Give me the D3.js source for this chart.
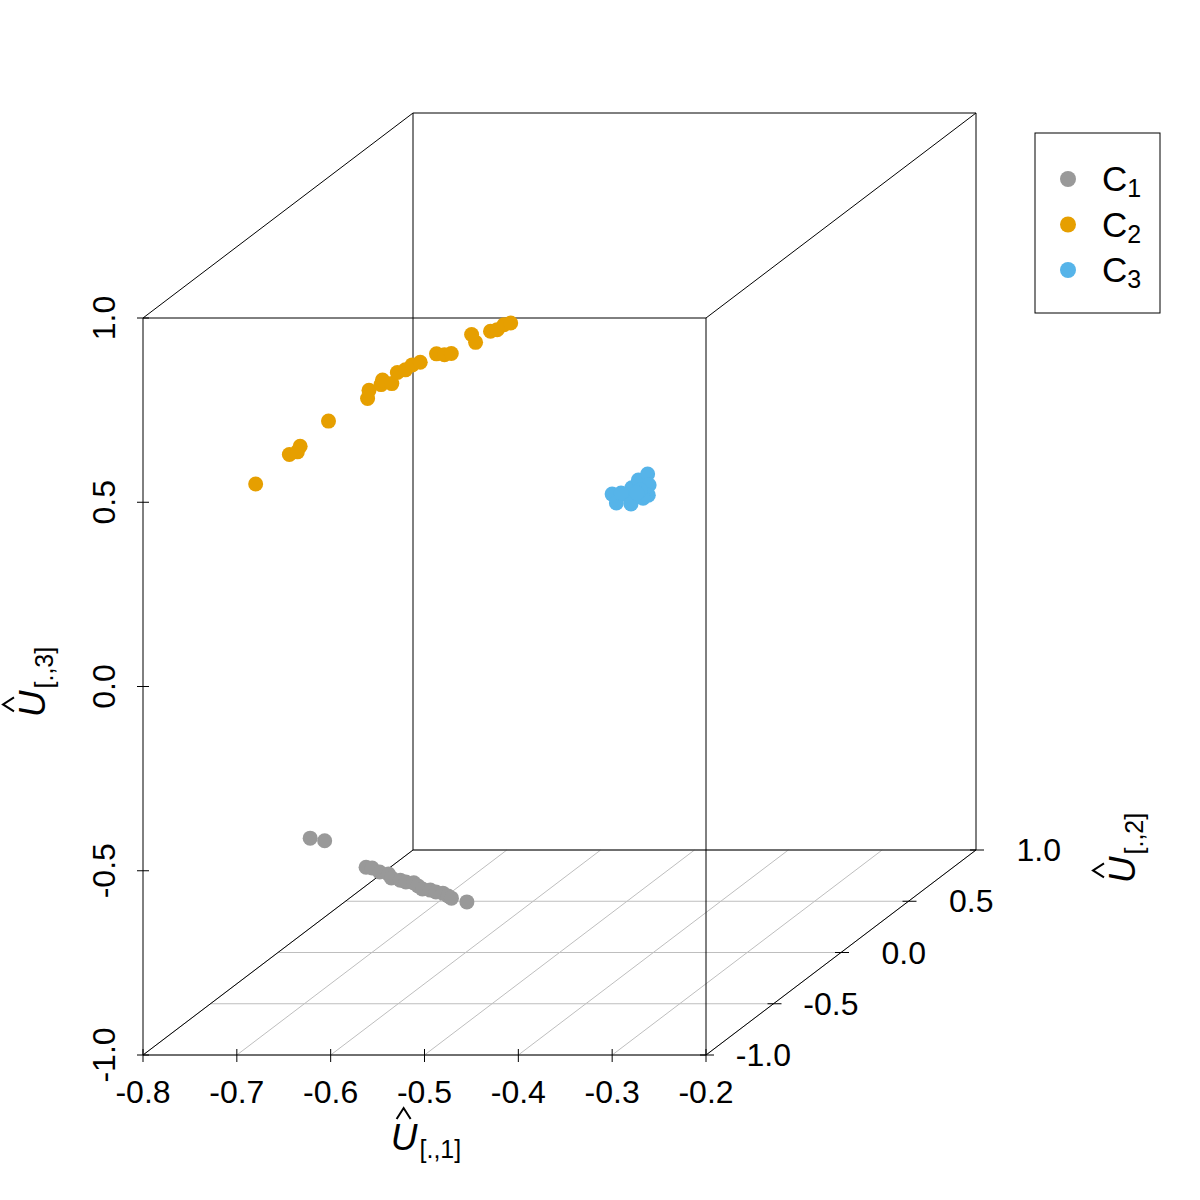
<!DOCTYPE html>
<html>
<head>
<meta charset="utf-8">
<script src="https://cdn.jsdelivr.net/npm/d3@7"></script>
<style>
  body { margin: 0; background: #ffffff; }
  text { font-family: "Liberation Sans", Arial, sans-serif; }
</style>
</head>
<body>
<div id="chart"></div>
<script>
// tick values for the three axes
const xTicks = [-0.8, -0.7, -0.6, -0.5, -0.4, -0.3, -0.2]
const yTicks = [-1.0, -0.5, 0.0, 0.5, 1.0]
const zTicks = [-1.0, -0.5, 0.0, 0.5, 1.0]

// legend labels (C + subscript)
const legendBase = ["C", "C", "C"]
const legendSub = ["1", "2", "3"]

// cluster C1 (grey)
const c1_u1 = [-0.665, -0.651, -0.604, -0.599, -0.591, -0.583, -0.577, -0.569, -0.563, -0.556, -0.550, -0.544, -0.537, -0.531, -0.525, -0.518, -0.513, -0.498]
const c1_u2 = [-0.70, -0.69, -0.71, -0.70, -0.70, -0.69, -0.71, -0.70, -0.70, -0.69, -0.70, -0.71, -0.70, -0.70, -0.69, -0.70, -0.71, -0.70]
const c1_u3 = [-0.495, -0.505, -0.571, -0.576, -0.587, -0.595, -0.600, -0.609, -0.614, -0.619, -0.625, -0.630, -0.636, -0.641, -0.647, -0.652, -0.655, -0.668]

// cluster C2 (orange)
const c2_u1 = [-0.69, -0.68, -0.67, -0.68, -0.68, -0.67, -0.68, -0.67, -0.68, -0.66, -0.68, -0.67, -0.68, -0.67, -0.68, -0.66, -0.67, -0.68, -0.67, -0.68, -0.67, -0.68, -0.67]
const c2_u2 = [-0.93, -0.75, -0.76, -0.67, -0.46, -0.24, -0.16, -0.14, -0.06, -0.13, 0.05, 0.04, 0.16, 0.15, 0.34, 0.26, 0.38, 0.60, 0.56, 0.74, 0.72, 0.84, 0.82]
const c2_u3 = [0.53, 0.56, 0.57, 0.56, 0.57, 0.57, 0.57, 0.58, 0.57, 0.58, 0.56, 0.57, 0.55, 0.56, 0.53, 0.55, 0.52, 0.51, 0.50, 0.48, 0.49, 0.47, 0.48]

// cluster C3 (blue)
const c3_u1 = [-0.372, -0.366, -0.355, -0.351, -0.349, -0.344, -0.337, -0.334, -0.332, -0.339, -0.342, -0.347, -0.361]
const c3_u2 = [-0.50, -0.51, -0.49, -0.50, -0.52, -0.50, -0.48, -0.49, -0.51, -0.50, -0.50, -0.49, -0.51]
const c3_u3 = [0.383, 0.362, 0.372, 0.400, 0.362, 0.421, 0.432, 0.405, 0.383, 0.372, 0.394, 0.383, 0.389]

const clusterColors = ["#999999", "#E69F00", "#56B4E9"]

const width = 1200
const height = 1200

// front face of the box + depth offset for the third axis
const xScale = d3.scaleLinear().domain([-0.8, -0.2]).range([143, 706])
const zScale = d3.scaleLinear().domain([-1, 1]).range([1055, 318])
const depthScale = d3.scaleLinear().domain([-1, 1]).range([0, 1])
const depthX = 270
const depthY = -205

function project(x, y, z) {
    const d = depthScale(y)
    return [xScale(x) + d * depthX, zScale(z) + d * depthY]
}

const points = []
const clusters = [[c1_u1, c1_u2, c1_u3], [c2_u1, c2_u2, c2_u3], [c3_u1, c3_u2, c3_u3]]
clusters.forEach((c, k) => {
    c[0].forEach((v, i) => {
        points.push({ u1: v, u2: c[1][i], u3: c[2][i], cluster: k })
    })
})

const svg = d3.select("#chart")
    .append("svg")
    .attr("width", width)
    .attr("height", height)

svg.append("rect").attr("width", width).attr("height", height).attr("fill", "white")

const xMin = xTicks[0], xMax = xTicks[xTicks.length - 1]
const yMin = yTicks[0], yMax = yTicks[yTicks.length - 1]
const zMin = zTicks[0], zMax = zTicks[zTicks.length - 1]

// floor grid
const grid = svg.append("g").attr("stroke", "#bebebe").attr("stroke-width", 1).attr("fill", "none")
xTicks.forEach(t => {
    const a = project(t, yMin, zMin), b = project(t, yMax, zMin)
    grid.append("line").attr("x1", a[0]).attr("y1", a[1]).attr("x2", b[0]).attr("y2", b[1])
})
yTicks.forEach(t => {
    const a = project(xMin, t, zMin), b = project(xMax, t, zMin)
    grid.append("line").attr("x1", a[0]).attr("y1", a[1]).attr("x2", b[0]).attr("y2", b[1])
})

// box
const corners = []
;[xMin, xMax].forEach(x => [yMin, yMax].forEach(y => [zMin, zMax].forEach(z => corners.push({ x, y, z }))))
const box = svg.append("g").attr("stroke", "black").attr("stroke-width", 1).attr("fill", "none")
corners.forEach((a, i) => {
    corners.forEach((b, j) => {
        if (j <= i) return
        const diff = (a.x !== b.x) + (a.y !== b.y) + (a.z !== b.z)
        if (diff !== 1) return
        const p = project(a.x, a.y, a.z), q = project(b.x, b.y, b.z)
        box.append("line").attr("x1", p[0]).attr("y1", p[1]).attr("x2", q[0]).attr("y2", q[1])
    })
})

// ticks
const ticks = svg.append("g").attr("stroke", "black").attr("stroke-width", 1)
xTicks.forEach(t => {
    const p = project(t, yMin, zMin)
    ticks.append("line").attr("x1", p[0]).attr("y1", p[1] - 6).attr("x2", p[0]).attr("y2", p[1] + 7)
})
zTicks.forEach(t => {
    const p = project(xMin, yMin, t)
    ticks.append("line").attr("x1", p[0] - 6).attr("y1", p[1]).attr("x2", p[0] + 6).attr("y2", p[1])
})
yTicks.forEach(t => {
    const p = project(xMax, t, zMin)
    ticks.append("line").attr("x1", p[0] - 6).attr("y1", p[1]).attr("x2", p[0] + 8).attr("y2", p[1])
})

// tick labels (plain hyphen for the minus sign, like R)
const fmt = v => d3.format(".1f")(v).replace("\u2212", "-")
const labels = svg.append("g").attr("font-size", 32).attr("fill", "black")
xTicks.forEach(t => {
    const p = project(t, yMin, zMin)
    labels.append("text").attr("x", p[0]).attr("y", p[1] + 48)
        .attr("text-anchor", "middle").text(fmt(t))
})
zTicks.forEach(t => {
    const p = project(xMin, yMin, t)
    labels.append("text")
        .attr("transform", "translate(" + (p[0] - 28) + "," + p[1] + ") rotate(-90)")
        .attr("text-anchor", "middle").text(fmt(t))
})
yTicks.forEach(t => {
    const p = project(xMax, t, zMin)
    labels.append("text").attr("x", p[0] + 85).attr("y", p[1] + 11)
        .attr("text-anchor", "end").text(fmt(t))
})

// points
svg.append("g")
    .selectAll("circle")
    .data(points)
    .join("circle")
    .attr("cx", d => project(d.u1, d.u2, d.u3)[0])
    .attr("cy", d => project(d.u1, d.u2, d.u3)[1])
    .attr("r", 7.5)
    .attr("fill", d => clusterColors[d.cluster])

// axis titles: U-hat with subscript
function hatLabel(g, sub) {
    const u = g.append("text").attr("font-size", 37).attr("font-style", "italic").text("U")
    const s = g.append("text").attr("font-size", 25).attr("dy", 8).text(sub)
    const uw = u.node().getComputedTextLength()
    const sw = s.node().getComputedTextLength()
    const start = -(uw + sw + 2) / 2
    u.attr("x", start)
    s.attr("x", start + uw + 2)
    const cx = start + uw * 0.48
    g.append("path")
        .attr("d", "M" + (cx - 7) + ",-31 L" + cx + ",-42 L" + (cx + 7) + ",-31")
        .attr("fill", "none").attr("stroke", "black").attr("stroke-width", 2)
}
hatLabel(svg.append("g").attr("transform", "translate(426,1150)"), "[.,1]")
hatLabel(svg.append("g").attr("transform", "translate(45,682) rotate(-90)"), "[.,3]")
hatLabel(svg.append("g").attr("transform", "translate(1135,848) rotate(-90)"), "[.,2]")

// legend
const legend = svg.append("g")
legend.append("rect").attr("x", 1035).attr("y", 133).attr("width", 125).attr("height", 180)
    .attr("fill", "white").attr("stroke", "black").attr("stroke-width", 1)
const legendY = d3.scalePoint().domain(legendSub).range([179, 270])
legendSub.forEach((s, i) => {
    const y = legendY(s)
    legend.append("circle").attr("cx", 1068).attr("cy", y).attr("r", 8).attr("fill", clusterColors[i])
    const t = legend.append("text").attr("x", 1102).attr("y", y + 12).attr("font-size", 35)
    t.append("tspan").text(legendBase[i])
    t.append("tspan").attr("font-size", 25).attr("dy", 6).text(s)
})
</script>
</body>
</html>
